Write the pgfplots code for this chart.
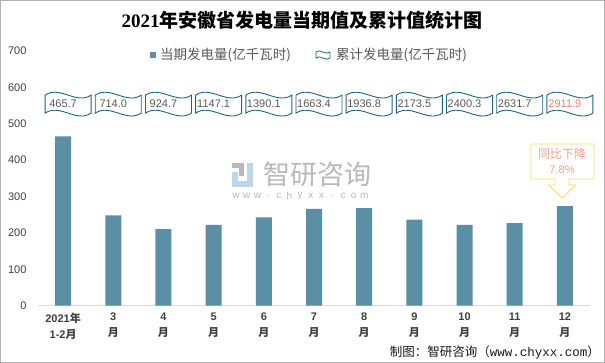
\documentclass[border=0pt]{standalone}
\usepackage{fontspec}
\setmainfont{Noto Sans CJK SC}
\newfontfamily\cjk{Noto Sans CJK SC}
\newfontfamily\lib{Liberation Sans}
\newfontfamily\libserif{Liberation Serif}
\newfontfamily\libmono{Liberation Mono}
\usepackage{pgfplots}
\usepackage{pgfplotstable}
\pgfplotsset{compat=1.18}
\definecolor{barc}{RGB}{91,143,166}
\definecolor{wavec}{RGB}{31,100,130}
\definecolor{salmon}{RGB}{244,130,105}
\definecolor{calltxt}{RGB}{246,160,140}
\definecolor{callbox}{RGB}{255,217,102}
\definecolor{tickc}{RGB}{64,64,64}
\definecolor{legc}{RGB}{89,89,89}
\definecolor{wmgray}{RGB}{185,185,185}
\definecolor{wmblue}{RGB}{190,214,236}

\pgfdeclareplotmark{wave}{%
 \pgfpathmoveto{\pgfpoint{-18pt}{9pt}}%
 \pgfpathcurveto{\pgfpoint{-3pt}{19pt}}{\pgfpoint{13pt}{-1pt}}{\pgfpoint{28pt}{9pt}}%
 \pgfpathlineto{\pgfpoint{28pt}{-9pt}}%
 \pgfpathcurveto{\pgfpoint{13pt}{-19pt}}{\pgfpoint{-3pt}{1pt}}{\pgfpoint{-18pt}{-9pt}}%
 \pgfpathclose
 \pgfusepathqfillstroke}

\pgfplotstableread{
x cur cum ly
0 465.7 465.7 554
1 248.3 714.0 554
2 210.7 924.7 554
3 222.4 1147.1 554
4 243.0 1390.1 554
5 266.0 1663.4 554
6 268.0 1936.8 554
7 236.7 2173.5 554
8 222.0 2400.3 554
9 227.0 2631.7 554
10 274.0 2911.9 554
}\datatable

\begin{document}
\begin{tikzpicture}[x=1pt,y=1pt]
\fill[white] (0,0) rectangle (605,363);

% watermark
\fill[wmgray] (232,195) rectangle (244,200);
\fill[wmgray] (239,187) rectangle (244,195);
\fill[wmblue] (232,176) rectangle (238,191);
\fill[wmblue] (238,176) rectangle (253,182);
\fill[wmblue] (247,182) rectangle (253,200);
\node[text=wmgray] at (317,189) {\fontsize{27}{27}\selectfont 智研咨询};
\foreach \c [count=\i] in {w,w,w,.,c,h,y,x,x,.,c,o,m}
  \node[text=wmgray, inner sep=0] at ({236+(\i-1)*10.7},167) {\fontsize{10}{10}\selectfont\lib \c};

\begin{axis}[
  at={(38pt,57.3pt)}, anchor=south west,
  width=552pt, height=254.7pt, scale only axis,
  xmin=-0.5, xmax=10.5, ymin=0, ymax=700,
  axis x line*=bottom, axis y line*=left,
  x axis line style={draw=gray!30, line width=0.9pt, -},
  y axis line style={draw=none},
  major tick length=0pt,
  ytick={0,100,...,700},
  /pgf/number format/assume math mode=true,
  yticklabel style={font=\fontsize{11}{11}\selectfont\lib, text=tickc, xshift=-8pt},
  xtick={0,...,10},
  xticklabels={{{\lib 2021}年\\{\lib 1-2}月},{{\lib 3}\\月},{{\lib 4}\\月},{{\lib 5}\\月},{{\lib 6}\\月},{{\lib 7}\\月},{{\lib 8}\\月},{{\lib 9}\\月},{{\lib 10}\\月},{{\lib 11}\\月},{{\lib 12}\\月}},
  xticklabel style={align=center, font=\fontsize{11}{15.5}\selectfont\bfseries, text=tickc, yshift=-4pt},
  clip=false,
]
\addplot[ybar, bar width=16pt, fill=barc, draw=none] table[x=x, y=cur] {\datatable};

\addplot[only marks, mark=wave, mark options={draw=wavec, fill=white, line width=0.9pt},
  nodes near coords, point meta=explicit symbolic,
  every node near coord/.append style={anchor=center, font=\fontsize{11}{11}\selectfont\lib, text=legc},
  skip coords between index={10}{11}]
  table[x=x, y=ly, meta=cum] {\datatable};
\addplot[only marks, mark=wave, mark options={draw=wavec, fill=white, line width=0.9pt},
  nodes near coords, point meta=explicit symbolic,
  every node near coord/.append style={anchor=center, font=\fontsize{11}{11}\selectfont\lib, text=salmon},
  skip coords between index={0}{10}]
  table[x=x, y=ly, meta=cum] {\datatable};
\end{axis}

% title
\node at (302,343) {\fontsize{19}{19}\selectfont\libserif\bfseries 2021\cjk\bfseries 年安徽省发电量当期值及累计值统计图};

% legend
\fill[barc] (150,305) rectangle (156,311);
\node[anchor=west, inner sep=0, text=legc] at (160,308) {\fontsize{13.5}{13.5}\selectfont 当期发电量(亿千瓦时)};
\draw[wavec, line width=0.8pt] (316,311) .. controls (320,315) and (325,307) .. (330,311) -- (330,305) .. controls (325,301) and (320,309) .. (316,305) -- cycle;
\node[anchor=west, inner sep=0, text=legc] at (336,308) {\fontsize{13.5}{13.5}\selectfont 累计发电量(亿千瓦时)};

% callout
\draw[callbox, line width=0.9pt] (531,219) -- (594,219) -- (594,184) -- (569,184) -- (569,178) -- (576,178) -- (562,165) -- (549,178) -- (555,178) -- (555,184) -- (531,184) -- cycle;
\node[text=calltxt] at (562,209) {\fontsize{12}{12}\selectfont 同比下降};
\node[text=calltxt] at (562,193) {\fontsize{11}{11}\selectfont\lib 7.8\%};

% footer
\node[anchor=east, inner sep=0, text=black!90] at (600,11) {\fontsize{12.5}{12.5}\selectfont 制图：智研咨询（{\libmono www.chyxx.com}）};

\draw[gray!60, line width=0.8pt] (0.5,0.5) rectangle (604.5,362.5);
\pgfresetboundingbox
\useasboundingbox (0,0) rectangle (605,363);
\end{tikzpicture}
\end{document}
